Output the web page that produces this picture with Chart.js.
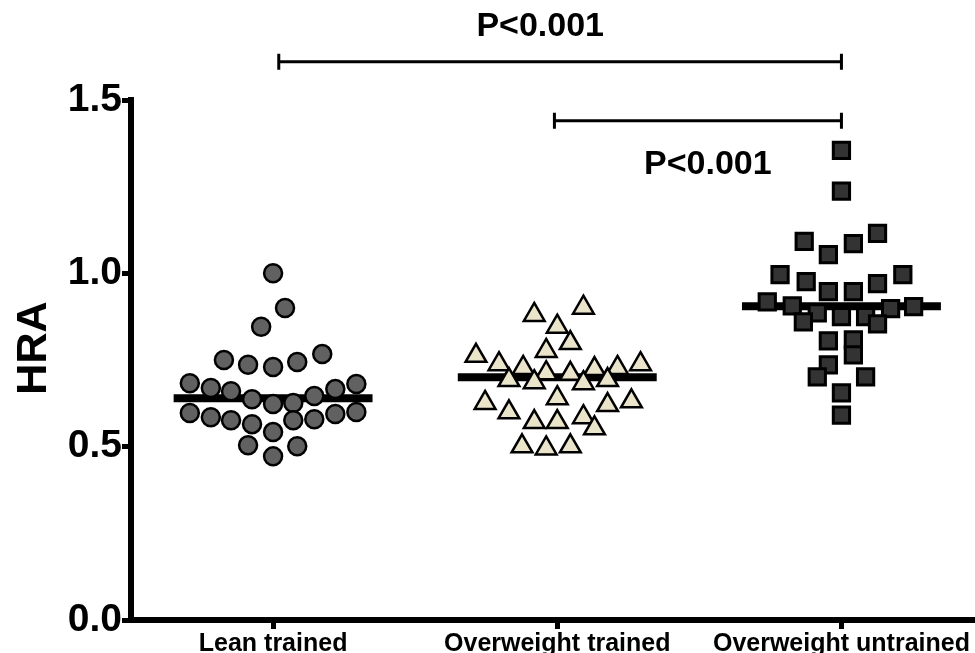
<!DOCTYPE html>
<html>
<head>
<meta charset="utf-8">
<script src="https://cdn.jsdelivr.net/npm/chart.js@4/dist/chart.umd.min.js"></script>
<style>
  html, body { margin: 0; padding: 0; background: #fff; }
  #wrap { width: 975px; height: 653px; }
</style>
</head>
<body>
<div id="wrap"><canvas id="hraChart"></canvas></div>
<script>
// groups on the x axis
const categories = ["Lean trained", "Overweight trained", "Overweight untrained"];
const yTicks = [0, 0.5, 1.0, 1.5];

// HRA values, with the horizontal spread of each point
const leanHRA = [1.00, 0.90, 0.846, 0.750, 0.736, 0.730, 0.744, 0.767,
  0.683, 0.669, 0.660, 0.637, 0.623, 0.626, 0.646, 0.666, 0.681,
  0.597, 0.585, 0.576, 0.565, 0.542, 0.576, 0.579, 0.594, 0.600,
  0.504, 0.472, 0.501];
const leanSpread = [0, 0.042, -0.042, -0.173, -0.088, 0, 0.085, 0.173,
  -0.293, -0.219, -0.148, -0.074, 0, 0.071, 0.145, 0.219, 0.293,
  -0.293, -0.219, -0.148, -0.074, 0, 0.071, 0.145, 0.219, 0.293,
  -0.088, 0, 0.085];

const owTrainedHRA = [0.901, 0.880, 0.846, 0.799, 0.776, 0.762, 0.738, 0.727,
  0.712, 0.710, 0.724, 0.727, 0.738, 0.692, 0.686, 0.683, 0.692,
  0.640, 0.626, 0.620, 0.631, 0.599, 0.571, 0.571, 0.585, 0.553,
  0.501, 0.495, 0.501];
const owTrainedSpread = [0.092, -0.081, 0, 0.046, -0.039, -0.286, -0.205, -0.12,
  -0.039, 0.046, 0.131, 0.212, 0.293, -0.17, -0.081, 0.092, 0.177,
  0, -0.254, 0.177, 0.261, -0.17, -0.081, 0, 0.092, 0.131,
  -0.124, -0.039, 0.046];

const owUntrainedHRA = [1.355, 1.237, 1.115, 1.092, 1.086, 1.054, 0.996, 0.996,
  0.976, 0.970, 0.947, 0.947, 0.918, 0.906, 0.898, 0.904, 0.886,
  0.860, 0.875, 0.875, 0.854, 0.805, 0.808, 0.765, 0.736, 0.701,
  0.701, 0.655, 0.591];
const owUntrainedSpread = [0, 0, 0.127, -0.131, 0.042, -0.046, -0.216, 0.216,
  -0.124, 0.127, -0.046, 0.042, -0.261, -0.173, 0.173, 0.254, -0.085,
  -0.134, 0, 0.085, 0.127, -0.046, 0.042, 0.042, -0.046, -0.085,
  0.085, 0, 0];

const medians = [0.64, 0.70, 0.905];

// significance brackets: from group, to group, height (HRA units), label place
const brackets = [
  { from: 1.02, to: 3.0, y: 1.61, text: "P<0.001", tx: 1.94, ty: 1.712 },
  { from: 1.99, to: 3.0, y: 1.44, text: "P<0.001", tx: 2.53, ty: 1.315 },
];

const FONT = "'Liberation Sans', Arial, Helvetica, sans-serif";

function toPoints(group, values, spread) {
  return values.map((v, i) => ({ x: group + spread[i], y: v }));
}

function medianLine(group, value) {
  return [{ x: group - 0.35, y: value }, { x: group + 0.35, y: value }];
}

// plugin for the P value brackets above the groups
const bracketPlugin = {
  id: "brackets",
  afterDraw(chart) {
    const { ctx, scales } = chart;
    const xs = scales.x;
    const ys = scales.y;
    ctx.save();
    ctx.strokeStyle = "#000";
    ctx.lineWidth = 3;
    ctx.fillStyle = "#000";
    ctx.font = "bold 34px " + FONT;
    ctx.textAlign = "center";
    ctx.textBaseline = "middle";
    brackets.forEach((b) => {
      const x1 = xs.getPixelForValue(b.from);
      const x2 = xs.getPixelForValue(b.to);
      const y = ys.getPixelForValue(b.y);
      ctx.beginPath();
      ctx.moveTo(x1, y);
      ctx.lineTo(x2, y);
      ctx.moveTo(x1, y - 8);
      ctx.lineTo(x1, y + 8);
      ctx.moveTo(x2, y - 8);
      ctx.lineTo(x2, y + 8);
      ctx.stroke();
      ctx.fillText(b.text, xs.getPixelForValue(b.tx), ys.getPixelForValue(b.ty));
    });
    ctx.restore();
  },
};

const ctx = document.getElementById("hraChart");

new Chart(ctx, {
  type: "scatter",
  data: {
    datasets: [
      {
        label: categories[0],
        data: toPoints(1, leanHRA, leanSpread),
        pointStyle: "circle",
        pointRadius: 9,
        pointBackgroundColor: "#616161",
        pointBorderColor: "#000",
        pointBorderWidth: 2.5,
        order: 0,
      },
      {
        label: categories[1],
        data: toPoints(2, owTrainedHRA, owTrainedSpread),
        pointStyle: "triangle",
        pointRadius: 12,
        pointBackgroundColor: "#EAE4CB",
        pointBorderColor: "#000",
        pointBorderWidth: 2.5,
        order: 0,
      },
      {
        label: categories[2],
        data: toPoints(3, owUntrainedHRA, owUntrainedSpread),
        pointStyle: "rect",
        pointRadius: 11.5,
        pointBackgroundColor: "#333333",
        pointBorderColor: "#000",
        pointBorderWidth: 3,
        order: 0,
      },
      ...medians.map((m, i) => ({
        label: "median " + categories[i],
        type: "line",
        data: medianLine(i + 1, m),
        borderColor: "#000",
        borderWidth: 8,
        pointRadius: 0,
        fill: false,
        order: 1,
      })),
    ],
  },
  options: {
    responsive: true,
    maintainAspectRatio: false,
    animation: false,
    layout: {
      autoPadding: false,
      padding: { top: 100, right: 0, left: 0, bottom: 0 },
    },
    plugins: {
      legend: { display: false },
      tooltip: { enabled: false },
    },
    scales: {
      x: {
        type: "linear",
        min: 0.5,
        max: 3.47,
        afterBuildTicks: (s) => {
          s.ticks = categories.map((c, i) => ({ value: i + 1 }));
        },
        afterFit: (s) => {
          s.height = 33;
          s.paddingLeft = 0;
          s.paddingRight = 0;
        },
        border: { display: true, color: "#000", width: 6 },
        grid: {
          display: true,
          drawOnChartArea: false,
          drawTicks: true,
          tickLength: 9,
          tickColor: "#000",
          tickWidth: 5,
        },
        ticks: {
          autoSkip: false,
          maxRotation: 0,
          padding: 0,
          color: "#000",
          font: { family: FONT, size: 25, weight: "bold" },
          callback: (v) => categories[v - 1],
        },
      },
      y: {
        min: 0,
        max: 1.5,
        afterBuildTicks: (s) => {
          s.ticks = yTicks.map((v) => ({ value: v }));
        },
        afterFit: (s) => {
          s.width = 131;
          s.paddingTop = 0;
          s.paddingBottom = 0;
        },
        border: { display: true, color: "#000", width: 6 },
        grid: {
          display: true,
          drawOnChartArea: false,
          drawTicks: true,
          tickLength: 9,
          tickColor: "#000",
          tickWidth: 5,
        },
        ticks: {
          padding: 0,
          color: "#000",
          font: { family: FONT, size: 39, weight: "bold" },
          callback: (v) => v.toFixed(1),
        },
        title: {
          display: true,
          // leading spaces nudge the rotated label up a little
          text: "  HRA",
          color: "#000",
          padding: { top: 8, bottom: 0 },
          font: { family: FONT, size: 43, weight: "bold" },
        },
      },
    },
  },
  plugins: [bracketPlugin],
});
</script>
</body>
</html>
